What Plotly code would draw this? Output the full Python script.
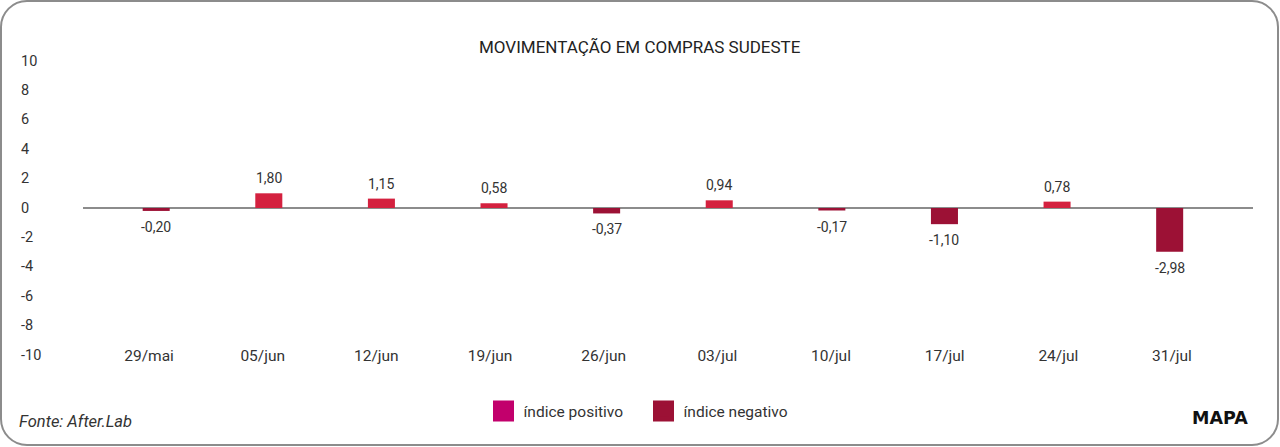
import plotly.graph_objects as go

# ---------------- data ----------------
categories = ["29/mai", "05/jun", "12/jun", "19/jun", "26/jun",
              "03/jul", "10/jul", "17/jul", "24/jul", "31/jul"]
values = [-0.20, 1.80, 1.15, 0.58, -0.37, 0.94, -0.17, -1.10, 0.78, -2.98]
y_ticks = [10, 8, 6, 4, 2, 0, -2, -4, -6, -8, -10]
legend_labels = ["índice positivo", "índice negativo"]
title_text = "MOVIMENTAÇÃO EM COMPRAS SUDESTE"
source_text = "Fonte: After.Lab"
brand_text = "MAPA"

# ---------------- style ----------------
POS_BAR = "#d4213f"
NEG_BAR = "#9c1135"
POS_LEG = "#c2006c"
NEG_LEG = "#9c1135"
TEXT = "#333333"
AXIS_GRAY = "#8c8c8c"
FONT = "Roboto"

W, H = 1280, 447
L, R, T, B = 83, 27, 61, 92
PW, PH = W - L - R, H - T - B


def px(x):
    return (x - L) / PW


def py(y):
    return (H - B - y) / PH


fig = go.Figure()

pos_x = [c for c, v in zip(categories, values) if v > 0]
pos_v = [v for v in values if v > 0]
neg_x = [c for c, v in zip(categories, values) if v < 0]
neg_v = [v for v in values if v < 0]

fig.add_trace(go.Bar(x=pos_x, y=pos_v, yaxis="y2", width=0.24,
                     marker=dict(color=POS_BAR, line=dict(width=0)),
                     showlegend=False, hoverinfo="x+y"))
fig.add_trace(go.Bar(x=neg_x, y=neg_v, yaxis="y", width=0.24,
                     marker=dict(color=NEG_BAR, line=dict(width=0)),
                     showlegend=False, hoverinfo="x+y"))

# legend entries (attached to the label axis so that it is drawn)
for name, col in zip(legend_labels, [POS_LEG, NEG_LEG]):
    fig.add_trace(go.Scatter(x=[None], y=[None], xaxis="x2", yaxis="y",
                             mode="markers", name=name,
                             marker=dict(symbol="square", size=16, color=col,
                                         line=dict(width=5, color=col))))

annotations = []
# value labels
for c, v in zip(categories, values):
    lab = f"{v:.2f}".replace(".", ",")
    if v > 0:
        annotations.append(dict(x=c, y=v, xref="x", yref="y2", text=lab,
                                showarrow=False, yanchor="middle", yshift=15,
                                font=dict(size=14, color=TEXT, family=FONT)))
    else:
        annotations.append(dict(x=c, y=v, xref="x", yref="y", text=lab,
                                showarrow=False, yanchor="middle", yshift=-16,
                                font=dict(size=14, color=TEXT, family=FONT)))

# left-aligned y tick labels
for t in y_ticks:
    annotations.append(dict(x=px(18.5), y=t, xref="paper", yref="y", text=str(t),
                            showarrow=False, xanchor="left", yanchor="middle",
                            font=dict(size=14.5, color=TEXT, family=FONT)))

annotations.append(dict(x=px(640), y=py(47), xref="paper", yref="paper",
                        text=title_text, showarrow=False, xanchor="center",
                        yanchor="middle",
                        font=dict(size=17, color="#222222", family=FONT)))
annotations.append(dict(x=px(16.5), y=py(421), xref="paper", yref="paper",
                        text=f"<i>{source_text}</i>", showarrow=False,
                        xanchor="left", yanchor="middle",
                        font=dict(size=16.5, color=TEXT, family=FONT)))
annotations.append(dict(x=px(1250), y=py(418), xref="paper", yref="paper",
                        text=f"<b>{brand_text}</b>", showarrow=False,
                        xanchor="right", yanchor="middle",
                        font=dict(size=17.5, color="#111111", family="DejaVu Sans")))

# rounded border
x0, y0, x1, y1, r = 1, 1, 1278, 445, 26
k = 0.5523 * r


def P(x, y):
    return f"{px(x):.6f},{py(y):.6f}"


path = (f"M {P(x0 + r, y0)} L {P(x1 - r, y0)} "
        f"C {P(x1 - r + k, y0)} {P(x1, y0 + r - k)} {P(x1, y0 + r)} "
        f"L {P(x1, y1 - r)} "
        f"C {P(x1, y1 - r + k)} {P(x1 - r + k, y1)} {P(x1 - r, y1)} "
        f"L {P(x0 + r, y1)} "
        f"C {P(x0 + r - k, y1)} {P(x0, y1 - r + k)} {P(x0, y1 - r)} "
        f"L {P(x0, y0 + r)} "
        f"C {P(x0, y0 + r - k)} {P(x0 + r - k, y0)} {P(x0 + r, y0)} Z")

fig.update_layout(
    width=W, height=H,
    margin=dict(l=L, r=R, t=T, b=B, pad=0),
    paper_bgcolor="white", plot_bgcolor="white",
    font=dict(family=FONT, color=TEXT),
    barmode="overlay",
    showlegend=True,
    legend=dict(orientation="h", x=px(483.5), xanchor="left",
                y=py(411.5), yanchor="middle",
                font=dict(size=15.5, color=TEXT, family=FONT),
                entrywidth=115, entrywidthmode="pixels",
                itemsizing="trace", bgcolor="rgba(0,0,0,0)", borderwidth=0),
    xaxis=dict(type="category", categoryorder="array", categoryarray=categories,
               range=[-0.65, 9.74], showgrid=False, showline=False, zeroline=False,
               ticks="", showticklabels=False, fixedrange=True),
    # label axis: same categories, labels placed slightly wider like the reference
    xaxis2=dict(overlaying="x", anchor="y", side="bottom", type="linear",
                range=[-0.581, 9.713], tickmode="array",
                tickvals=list(range(len(categories))), ticktext=categories,
                showgrid=False, showline=False, zeroline=False, ticks="",
                tickfont=dict(size=15.5, color=TEXT, family=FONT),
                ticklabelstandoff=-11, fixedrange=True),
    yaxis=dict(range=[-10, 10], showgrid=False, showline=False, zeroline=True,
               zerolinecolor=AXIS_GRAY, zerolinewidth=2, showticklabels=False,
               ticks="", fixedrange=True),
    yaxis2=dict(range=[-18, 18], overlaying="y", visible=False, fixedrange=True),
    annotations=annotations,
    shapes=[dict(type="path", xref="paper", yref="paper", path=path,
                 line=dict(color=AXIS_GRAY, width=2), layer="above")],
)

fig.write_html("out.html",
               config={"displayModeBar": False},
               post_script="document.body.style.margin='0';"
                           "document.body.style.overflow='hidden';")
